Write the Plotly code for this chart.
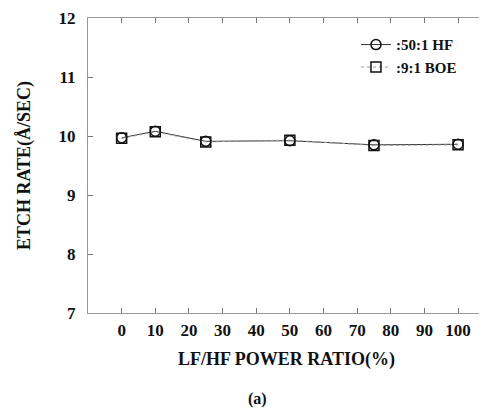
import plotly.graph_objects as go

power_ratio = [0, 10, 25, 50, 75, 100]
hf_50_1 = [9.97, 10.08, 9.91, 9.92, 9.85, 9.86]
boe_9_1 = [9.96, 10.07, 9.90, 9.93, 9.84, 9.85]
x_ticks = [0, 10, 20, 30, 40, 50, 60, 70, 80, 90, 100]
y_ticks = [7, 8, 9, 10, 11, 12]

font_family = "Liberation Serif"

fig = go.Figure()
fig.add_trace(go.Scatter(
    x=power_ratio, y=hf_50_1, name=":50:1 HF", mode="lines+markers",
    line=dict(color="#333", width=1),
    marker=dict(symbol="circle-open", size=10, color="#111", line=dict(width=1.5)),
))
fig.add_trace(go.Scatter(
    x=power_ratio, y=boe_9_1, name=":9:1 BOE", mode="lines+markers",
    line=dict(color="#999", width=1, dash="dot"),
    marker=dict(symbol="square-open", size=10, color="#111", line=dict(width=1.5)),
))

axis_common = dict(
    showgrid=False, zeroline=False, showline=True, linecolor="#999", linewidth=1,
    mirror="ticks", ticks="inside", ticklen=5, tickcolor="#777", automargin=False,
    ticklabeloverflow="allow",
    tickfont=dict(family=font_family, size=17, color="#111", weight="bold"),
)

fig.update_layout(
    width=487, height=410,
    margin=dict(l=80, r=10, t=10, b=105),
    paper_bgcolor="white", plot_bgcolor="white",
    font=dict(family=font_family, color="#111"),
    showlegend=True,
    legend=dict(x=0.675, y=0.965, xanchor="left", yanchor="top",
                bgcolor="rgba(0,0,0,0)",
                font=dict(family=font_family, size=15, color="#111", weight="bold"),
                tracegroupgap=0, itemwidth=30),
    xaxis=dict(range=[-10, 108], tickvals=x_ticks, ticklabelstandoff=2,
               title=dict(text="LF/HF POWER RATIO(%)",
                          font=dict(family=font_family, size=18, weight="bold"), standoff=12),
               **axis_common),
    yaxis=dict(range=[7, 12], tickvals=y_ticks, ticklabelstandoff=8,
               title=dict(text="ETCH RATE(Å/SEC)",
                          font=dict(family=font_family, size=18, weight="bold"), standoff=23),
               **axis_common),
    annotations=[dict(text="(a)", x=0.428, y=-0.29, xref="paper", yref="paper",
                      yanchor="middle", xanchor="center",
                      showarrow=False, font=dict(family=font_family, size=16, weight="bold"))],
)

fig.write_html("out.html")
